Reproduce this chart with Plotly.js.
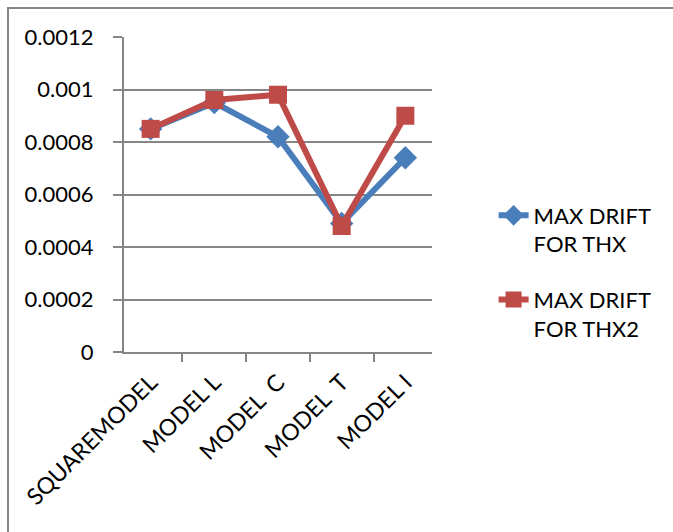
<!DOCTYPE html>
<html>
<head>
<meta charset="utf-8">
<script src="https://cdn.plot.ly/plotly-3.0.1.min.js"></script>
<style>
  html, body { margin: 0; padding: 0; background: #fff; }
  #chart { width: 673px; height: 532px; }
</style>
</head>
<body>
<div id="chart"></div>
<script>
// Building models compared
const models = ["SQUAREMODEL", "MODEL L", "MODEL  C", "MODEL  T", "MODEL I"];

// Maximum storey drift per model
const driftThx  = [0.00085, 0.00095, 0.00082, 0.00049, 0.00074];
const driftThx2 = [0.00085, 0.00096, 0.00098, 0.00048, 0.00090];

// Y axis ticks
const yTickVals  = [0, 0.0002, 0.0004, 0.0006, 0.0008, 0.001, 0.0012];
const yTickText  = ["0", "0.0002", "0.0004", "0.0006", "0.0008", "0.001", "0.0012"];

const FONT = "Lato, 'Open Sans', sans-serif";
const FS = 22;

const traces = [
  {
    x: models, y: driftThx, type: "scatter", mode: "lines+markers",
    name: "MAX DRIFT<br>FOR THX", legendgroup: "a",
    line: { color: "#4A7EBB", width: 6 },
    marker: { symbol: "diamond", size: 18, color: "#4A7EBB" }
  },
  {
    x: models, y: driftThx2, type: "scatter", mode: "lines+markers",
    name: "MAX DRIFT<br>FOR THX2", legendgroup: "b",
    line: { color: "#BE4B48", width: 6 },
    marker: { symbol: "square", size: 18, color: "#BE4B48" }
  }
];

const layout = {
  width: 673, height: 532,
  margin: { l: 124, r: 241, t: 37, b: 180 },
  paper_bgcolor: "#fff", plot_bgcolor: "#fff",
  font: { family: FONT, size: FS, color: "#000" },
  showlegend: true,
  legend: {
    x: 1.2, y: 0.5, xanchor: "left", yanchor: "top",
    valign: "top", tracegroupgap: 24,
    font: { family: FONT, size: FS, color: "#000" },
    bgcolor: "rgba(0,0,0,0)"
  },
  xaxis: {
    type: "category",
    showgrid: false,
    showline: true, linecolor: "#868686", linewidth: 2,
    ticks: "outside", ticklen: 8, tickcolor: "#868686", tickwidth: 2,
    tickson: "boundaries",
    tickangle: -45,
    ticklabelstandoff: 6,
    tickfont: { family: FONT, size: 23, color: "#000" },
    zeroline: false
  },
  yaxis: {
    range: [0, 0.0012],
    tickvals: yTickVals, ticktext: yTickText,
    showgrid: true, gridcolor: "#868686", gridwidth: 2,
    showline: true, linecolor: "#868686", linewidth: 2,
    ticks: "outside", ticklen: 9, tickcolor: "#868686", tickwidth: 2,
    ticklabelstandoff: 15,
    tickfont: { family: FONT, size: FS, color: "#000" },
    zeroline: false
  },
  shapes: [
    {
      type: "rect", xref: "paper", yref: "paper",
      x0: -0.3766, x1: 2.5, y0: -1.5, y1: 1.092,
      line: { color: "#868686", width: 2 }, fillcolor: "rgba(0,0,0,0)",
      layer: "below"
    }
  ]
};

Plotly.newPlot("chart", traces, layout, { displayModeBar: false, staticPlot: true });
</script>
</body>
</html>
